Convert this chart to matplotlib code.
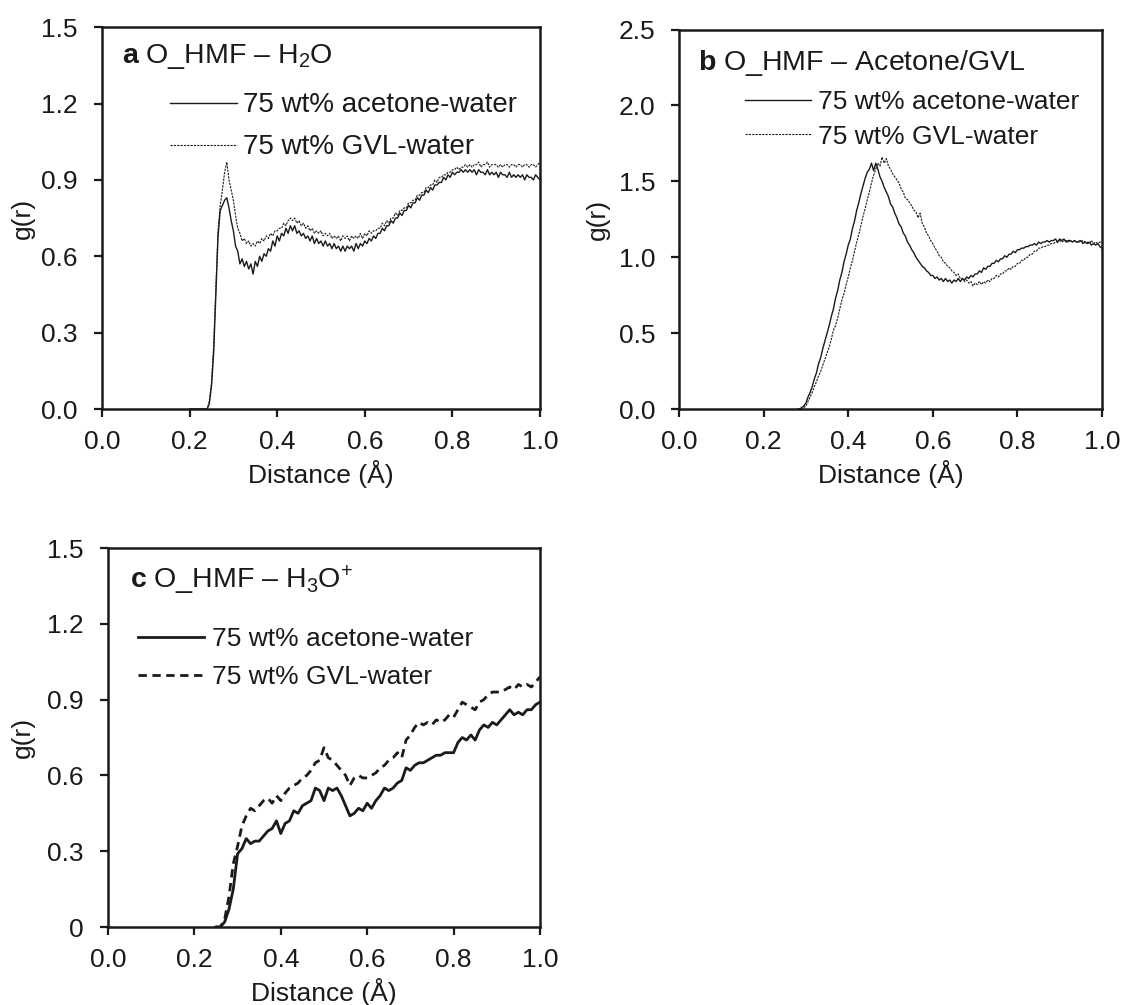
import numpy as np
import matplotlib
matplotlib.use("Agg")
import matplotlib.pyplot as plt

plt.rcParams['font.family'] = ['Liberation Sans', 'DejaVu Sans']
plt.rcParams['mathtext.fontset'] = 'custom'
plt.rcParams['mathtext.rm'] = 'Liberation Sans'
plt.rcParams['mathtext.it'] = 'Liberation Sans:italic'
plt.rcParams['mathtext.bf'] = 'Liberation Sans:bold'

INK = '#1a1a1a'

# ---------------- data ----------------
series_labels = ['75 wt% acetone-water', '75 wt% GVL-water']
x_ticks = [0.0, 0.2, 0.4, 0.6, 0.8, 1.0]
x_tick_labels = ['0.0', '0.2', '0.4', '0.6', '0.8', '1.0']

# (a) O_HMF - H2O, r = 0.20 ... 1.00 step 0.005
r_a = np.round(np.arange(0.200, 1.0001, 0.005), 3)
g_a_acetone = [
    0.00, 0.00, 0.00, 0.00, 0.00, 0.00, 0.00, 0.00,
    0.00, 0.02, 0.09, 0.22, 0.45, 0.68, 0.78, 0.80, 0.82, 0.83,
    0.79, 0.74, 0.70, 0.64, 0.62, 0.57, 0.59, 0.56, 0.58, 0.55,
    0.57, 0.53, 0.58, 0.56, 0.60, 0.58, 0.61, 0.60, 0.63, 0.62,
    0.66, 0.64, 0.68, 0.66, 0.69, 0.68, 0.71, 0.69, 0.72, 0.70,
    0.72, 0.69, 0.70, 0.68, 0.69, 0.67, 0.68, 0.66, 0.68, 0.65,
    0.67, 0.65, 0.66, 0.64, 0.66, 0.64, 0.65, 0.63, 0.65, 0.63,
    0.64, 0.62, 0.64, 0.62, 0.64, 0.63, 0.64, 0.62, 0.65, 0.63,
    0.65, 0.64, 0.66, 0.65, 0.67, 0.66, 0.68, 0.67, 0.69, 0.69,
    0.71, 0.70, 0.72, 0.72, 0.74, 0.73, 0.75, 0.75, 0.77, 0.76,
    0.78, 0.78, 0.80, 0.79, 0.81, 0.81, 0.83, 0.82, 0.84, 0.84,
    0.86, 0.85, 0.87, 0.86, 0.88, 0.88, 0.89, 0.89, 0.91, 0.90,
    0.92, 0.91, 0.93, 0.92, 0.93, 0.93, 0.94, 0.93, 0.94, 0.93,
    0.94, 0.93, 0.94, 0.92, 0.94, 0.93, 0.93, 0.92, 0.94, 0.92,
    0.93, 0.92, 0.93, 0.91, 0.93, 0.92, 0.92, 0.91, 0.93, 0.91,
    0.92, 0.91, 0.92, 0.91, 0.92, 0.90, 0.92, 0.91, 0.91, 0.90,
    0.92, 0.91, 0.90,
]
g_a_gvl = [
    0.00, 0.00, 0.00, 0.00, 0.00, 0.00, 0.00, 0.00,
    0.00, 0.03, 0.10, 0.25, 0.48, 0.70, 0.80, 0.86, 0.93, 0.97,
    0.90, 0.86, 0.82, 0.76, 0.71, 0.69, 0.66, 0.67, 0.65, 0.66,
    0.64, 0.65, 0.64, 0.66, 0.65, 0.67, 0.66, 0.68, 0.67, 0.69,
    0.68, 0.70, 0.70, 0.71, 0.71, 0.73, 0.72, 0.74, 0.75, 0.74,
    0.75, 0.73, 0.74, 0.72, 0.73, 0.71, 0.72, 0.70, 0.71, 0.69,
    0.70, 0.69, 0.70, 0.68, 0.69, 0.68, 0.69, 0.67, 0.68, 0.67,
    0.68, 0.66, 0.68, 0.67, 0.68, 0.66, 0.68, 0.67, 0.68, 0.67,
    0.69, 0.67, 0.69, 0.68, 0.70, 0.69, 0.70, 0.70, 0.71, 0.71,
    0.73, 0.72, 0.74, 0.73, 0.75, 0.75, 0.77, 0.76, 0.78, 0.78,
    0.79, 0.79, 0.81, 0.81, 0.82, 0.82, 0.84, 0.84, 0.85, 0.85,
    0.87, 0.87, 0.88, 0.88, 0.90, 0.89, 0.91, 0.91, 0.92, 0.92,
    0.93, 0.93, 0.94, 0.94, 0.95, 0.94, 0.95, 0.95, 0.96, 0.95,
    0.96, 0.95, 0.96, 0.96, 0.97, 0.95, 0.96, 0.96, 0.97, 0.95,
    0.96, 0.96, 0.96, 0.95, 0.96, 0.95, 0.96, 0.96, 0.95, 0.96,
    0.96, 0.95, 0.96, 0.96, 0.95, 0.96, 0.96, 0.95, 0.96, 0.96,
    0.95, 0.96, 0.97,
]

# (b) O_HMF - Acetone/GVL, r = 0.28 ... 1.00 step 0.005
r_b = np.round(np.arange(0.280, 1.0001, 0.005), 3)
g_b_acetone = [
    0.00, 0.00, 0.01, 0.02, 0.04, 0.08, 0.11, 0.15, 0.20, 0.24,
    0.30, 0.34, 0.40, 0.45, 0.50, 0.55, 0.61, 0.66, 0.73, 0.78,
    0.85, 0.90, 0.97, 1.02, 1.08, 1.12, 1.19, 1.24, 1.31, 1.36,
    1.42, 1.47, 1.52, 1.56, 1.58, 1.62, 1.57, 1.62, 1.58, 1.53,
    1.50, 1.46, 1.43, 1.40, 1.35, 1.33, 1.29, 1.26, 1.22, 1.20,
    1.16, 1.14, 1.10, 1.08, 1.05, 1.03, 1.00, 0.98, 0.96, 0.94,
    0.93, 0.91, 0.90, 0.88, 0.88, 0.86, 0.87, 0.85, 0.86, 0.84,
    0.86, 0.84, 0.85, 0.83, 0.85, 0.84, 0.86, 0.84, 0.86, 0.85,
    0.87, 0.86, 0.88, 0.87, 0.89, 0.89, 0.91, 0.90, 0.93, 0.92,
    0.94, 0.94, 0.96, 0.96, 0.98, 0.97, 0.99, 0.99, 1.01, 1.00,
    1.02, 1.02, 1.04, 1.03, 1.05, 1.05, 1.06, 1.06, 1.07, 1.07,
    1.08, 1.08, 1.09, 1.08, 1.10, 1.09, 1.10, 1.10, 1.11, 1.10,
    1.11, 1.11, 1.12, 1.10, 1.12, 1.11, 1.12, 1.10, 1.11, 1.11,
    1.10, 1.11, 1.10, 1.10, 1.11, 1.09, 1.10, 1.09, 1.10, 1.08,
    1.09, 1.08, 1.09, 1.07, 1.06,
]
g_b_gvl = [
    0.00, 0.00, 0.00, 0.01, 0.02, 0.05, 0.08, 0.11, 0.15, 0.18,
    0.22, 0.25, 0.29, 0.33, 0.37, 0.41, 0.46, 0.52, 0.55, 0.60,
    0.66, 0.72, 0.76, 0.82, 0.87, 0.93, 0.98, 1.04, 1.10, 1.15,
    1.21, 1.27, 1.32, 1.38, 1.43, 1.49, 1.54, 1.58, 1.62, 1.60,
    1.66, 1.62, 1.65, 1.60, 1.58, 1.55, 1.53, 1.51, 1.49, 1.45,
    1.43, 1.39, 1.38, 1.36, 1.34, 1.31, 1.30, 1.26, 1.29, 1.22,
    1.20, 1.16, 1.14, 1.11, 1.09, 1.06, 1.04, 1.01, 1.00, 0.97,
    0.96, 0.94, 0.93, 0.91, 0.90, 0.88, 0.89, 0.86, 0.86, 0.84,
    0.85, 0.83, 0.84, 0.81, 0.83, 0.82, 0.84, 0.82, 0.84, 0.83,
    0.85, 0.84, 0.86, 0.86, 0.88, 0.87, 0.89, 0.89, 0.91, 0.91,
    0.93, 0.92, 0.94, 0.94, 0.96, 0.96, 0.98, 0.98, 1.00, 1.00,
    1.02, 1.02, 1.04, 1.04, 1.06, 1.06, 1.07, 1.07, 1.08, 1.08,
    1.09, 1.09, 1.10, 1.10, 1.11, 1.10, 1.11, 1.11, 1.10, 1.11,
    1.10, 1.11, 1.10, 1.11, 1.10, 1.11, 1.10, 1.10, 1.09, 1.11,
    1.09, 1.10, 1.09, 1.10, 1.10,
]

# (c) O_HMF - H3O+, r = 0.25 ... 1.00 step 0.01
r_c = np.round(np.arange(0.25, 1.0001, 0.01), 2)
g_c_acetone = [
    0.00, 0.00, 0.02, 0.07, 0.15, 0.29, 0.31, 0.35, 0.33, 0.34,
    0.34, 0.36, 0.38, 0.39, 0.42, 0.37, 0.41, 0.42, 0.46, 0.45,
    0.48, 0.49, 0.50, 0.55, 0.54, 0.50, 0.55, 0.54, 0.55, 0.52,
    0.48, 0.44, 0.45, 0.47, 0.46, 0.49, 0.47, 0.50, 0.52, 0.55,
    0.54, 0.55, 0.57, 0.58, 0.63, 0.62, 0.64, 0.65, 0.65, 0.66,
    0.67, 0.68, 0.68, 0.69, 0.69, 0.69, 0.73, 0.75, 0.74, 0.76,
    0.74, 0.78, 0.80, 0.79, 0.81, 0.80, 0.82, 0.84, 0.86, 0.84,
    0.85, 0.84, 0.86, 0.86, 0.88, 0.89,
]
g_c_gvl = [
    0.00, 0.00, 0.03, 0.12, 0.25, 0.32, 0.40, 0.44, 0.47, 0.46,
    0.48, 0.50, 0.51, 0.49, 0.52, 0.50, 0.53, 0.55, 0.56, 0.57,
    0.59, 0.60, 0.62, 0.65, 0.66, 0.71, 0.67, 0.66, 0.64, 0.62,
    0.60, 0.56, 0.59, 0.60, 0.59, 0.59, 0.60, 0.61, 0.63, 0.64,
    0.66, 0.67, 0.69, 0.67, 0.74, 0.76, 0.79, 0.81, 0.80, 0.81,
    0.80, 0.82, 0.81, 0.82, 0.84, 0.83, 0.86, 0.89, 0.88, 0.87,
    0.86, 0.89, 0.90, 0.92, 0.93, 0.93, 0.93, 0.94, 0.95, 0.94,
    0.96, 0.95, 0.96, 0.95, 0.97, 0.99,
]

y_ticks_a = [0.0, 0.3, 0.6, 0.9, 1.2, 1.5]
y_tick_labels_a = ['0.0', '0.3', '0.6', '0.9', '1.2', '1.5']
y_ticks_b = [0.0, 0.5, 1.0, 1.5, 2.0, 2.5]
y_tick_labels_b = ['0.0', '0.5', '1.0', '1.5', '2.0', '2.5']
y_ticks_c = [0.0, 0.3, 0.6, 0.9, 1.2, 1.5]
y_tick_labels_c = ['0', '0.3', '0.6', '0.9', '1.2', '1.5']

# ---------------- figure ----------------
fig = plt.figure(figsize=(11.38, 10.05), dpi=100)
ax_a = fig.add_axes([0.0896, 0.593, 0.3849, 0.380])
ax_b = fig.add_axes([0.5967, 0.593, 0.3717, 0.3776])
ax_c = fig.add_axes([0.0949, 0.0776, 0.3796, 0.3771])

FS = 19
TITLE_FS = 20.5


def style_axes(ax, yticks, ylabels, ylim, ylab_x, xlab_y):
    ax.set_xlim(0, 1)
    ax.set_ylim(*ylim)
    ax.set_xticks(x_ticks)
    ax.set_xticklabels(x_tick_labels)
    ax.set_yticks(yticks)
    ax.set_yticklabels(ylabels)
    ax.tick_params(direction='out', length=5.8, width=1.6, labelsize=FS,
                   colors=INK, top=False, right=False)
    ax.tick_params(axis='x', pad=9.4)
    ax.tick_params(axis='y', pad=11.5)
    for s in ax.spines.values():
        s.set_linewidth(1.8)
        s.set_color(INK)
    ax.set_ylabel('g(r)', fontsize=FS, color=INK)
    ax.set_xlabel('Distance (Å)', fontsize=FS, color=INK)
    ax.yaxis.label.set_va('center')
    ax.xaxis.label.set_va('baseline')
    ax.yaxis.set_label_coords(ylab_x, 0.5)
    ax.xaxis.set_label_coords(0.5, xlab_y)


# panel a
ax_a.plot(r_a, g_a_acetone, color=INK, lw=1.0, label=series_labels[0])
ax_a.plot(r_a, g_a_gvl, color=INK, lw=0.8, ls=(0, (2, 1)), label=series_labels[1])
style_axes(ax_a, y_ticks_a, y_tick_labels_a, (0, 1.5), -0.180, -0.194)
ax_a.text(0.045, 0.922, r'$\mathbf{a}$ O_HMF – H$_2$O', transform=ax_a.transAxes,
          fontsize=TITLE_FS, color=INK, va='center', ha='left')
ax_a.legend(loc='upper left', bbox_to_anchor=(0.155, 0.829), frameon=False,
            fontsize=20, handlelength=2.4, handletextpad=0.25,
            labelspacing=0.57, borderpad=0, borderaxespad=0, labelcolor=INK)

# panel b
ax_b.plot(r_b, g_b_acetone, color=INK, lw=1.0, label=series_labels[0])
ax_b.plot(r_b, g_b_gvl, color=INK, lw=0.8, ls=(0, (2, 1)), label=series_labels[1])
style_axes(ax_b, y_ticks_b, y_tick_labels_b, (0, 2.5), -0.191, -0.194)
ax_b.text(0.045, 0.912, r'$\mathbf{b}$ O_HMF – Acetone/GVL', transform=ax_b.transAxes,
          fontsize=TITLE_FS, color=INK, va='center', ha='left')
ax_b.legend(loc='upper left', bbox_to_anchor=(0.155, 0.84), frameon=False,
            fontsize=19, handlelength=2.5, handletextpad=0.3,
            labelspacing=0.39, borderpad=0, borderaxespad=0, labelcolor=INK)

# panel c
ax_c.plot(r_c, g_c_acetone, color=INK, lw=2.0, label=series_labels[0])
ax_c.plot(r_c, g_c_gvl, color=INK, lw=2.0, ls=(0, (3, 2)), label=series_labels[1])
style_axes(ax_c, y_ticks_c, y_tick_labels_c, (0, 1.5), -0.197, -0.195)
ax_c.text(0.05, 0.915, r'$\mathbf{c}$ O_HMF – H$_3$O$^{+}$', transform=ax_c.transAxes,
          fontsize=TITLE_FS, color=INK, va='center', ha='left')
ax_c.legend(loc='upper left', bbox_to_anchor=(0.07, 0.791), frameon=False,
            fontsize=19, handlelength=2.5, handletextpad=0.3,
            labelspacing=0.53, borderpad=0, borderaxespad=0, labelcolor=INK)

fig.savefig('out.png', dpi=100)
